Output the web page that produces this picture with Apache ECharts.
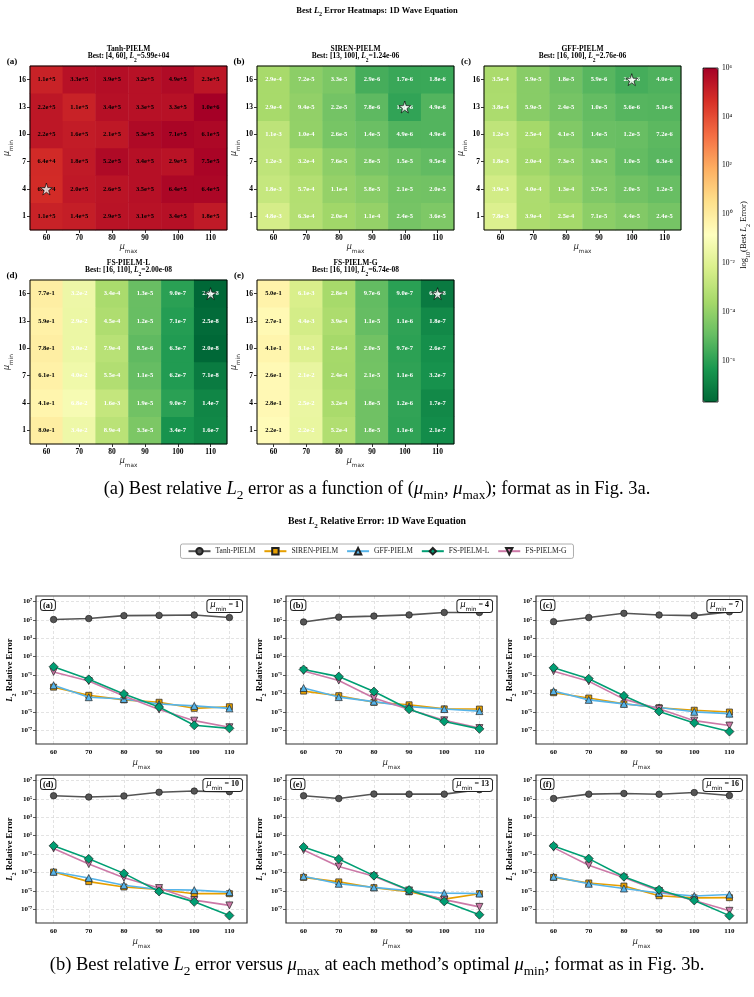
<!DOCTYPE html>
<html><head><meta charset="utf-8">
<script src="https://cdn.jsdelivr.net/npm/echarts@6/dist/echarts.min.js"></script>
<style>html,body{margin:0;padding:0;background:#fff}#c{width:754px;height:997px}</style>
</head><body><div id="c"></div><script>
// ---------------- DATA ----------------
const muMax = [60, 70, 80, 90, 100, 110];
const muMin = [1, 4, 7, 10, 13, 16];
const methods = ['Tanh-PIELM', 'SIREN-PIELM', 'GFF-PIELM', 'FS-PIELM-L', 'FS-PIELM-G'];
// rows: mu_min = 1,4,7,10,13,16 ; columns: mu_max = 60..110
const tanhPIELM = [
  [1.1e5, 1.4e5, 2.9e5, 3.1e5, 3.4e5, 1.8e5],
  [5.99e4, 2.0e5, 2.6e5, 3.5e5, 6.4e5, 6.4e5],
  [6.4e4, 1.8e5, 5.2e5, 3.4e5, 2.9e5, 7.5e5],
  [2.2e5, 1.6e5, 2.1e5, 5.3e5, 7.1e5, 6.1e5],
  [2.2e5, 1.1e5, 3.4e5, 3.3e5, 3.3e5, 1.0e6],
  [1.1e5, 3.3e5, 3.9e5, 3.2e5, 4.9e5, 2.3e5]
];
const sirenPIELM = [
  [4.8e-3, 6.3e-4, 2.0e-4, 1.1e-4, 2.4e-5, 3.6e-5],
  [1.8e-3, 5.7e-4, 1.1e-4, 5.8e-5, 2.1e-5, 2.0e-5],
  [1.2e-3, 3.2e-4, 7.6e-5, 2.8e-5, 1.5e-5, 9.5e-6],
  [1.1e-3, 1.0e-4, 2.6e-5, 1.4e-5, 4.9e-6, 4.9e-6],
  [2.9e-4, 9.4e-5, 2.2e-5, 7.8e-6, 1.24e-6, 4.9e-6],
  [2.9e-4, 7.2e-5, 3.3e-5, 2.9e-6, 1.7e-6, 1.8e-6]
];
const gffPIELM = [
  [7.8e-3, 3.9e-4, 2.5e-4, 7.1e-5, 4.4e-5, 2.4e-5],
  [3.9e-3, 4.0e-4, 1.3e-4, 3.7e-5, 2.0e-5, 1.2e-5],
  [1.8e-3, 2.0e-4, 7.3e-5, 3.0e-5, 1.0e-5, 6.3e-6],
  [1.2e-3, 2.5e-4, 4.1e-5, 1.4e-5, 1.2e-5, 7.2e-6],
  [3.8e-4, 5.9e-5, 2.4e-5, 1.0e-5, 5.6e-6, 5.1e-6],
  [3.5e-4, 5.9e-5, 1.8e-5, 5.9e-6, 2.76e-6, 4.0e-6]
];
const fsPIELM_L = [
  [8.0e-1, 3.4e-2, 8.9e-4, 3.3e-5, 3.4e-7, 1.6e-7],
  [4.1e-1, 6.8e-2, 1.6e-3, 1.9e-5, 9.0e-7, 1.4e-7],
  [6.1e-1, 4.0e-2, 5.5e-4, 1.1e-5, 6.2e-7, 7.1e-8],
  [7.8e-1, 3.0e-2, 7.9e-4, 8.5e-6, 6.3e-7, 2.04e-8],
  [5.9e-1, 2.9e-2, 4.5e-4, 1.2e-5, 7.1e-7, 2.5e-8],
  [7.7e-1, 3.2e-2, 3.4e-4, 1.3e-5, 9.0e-7, 2.00e-8]
];
const fsPIELM_G = [
  [2.2e-1, 2.2e-2, 5.2e-4, 1.8e-5, 1.1e-6, 2.1e-7],
  [2.8e-1, 2.5e-2, 3.2e-4, 1.8e-5, 1.2e-6, 1.7e-7],
  [2.6e-1, 2.1e-2, 2.4e-4, 2.1e-5, 1.1e-6, 3.2e-7],
  [4.1e-1, 8.1e-3, 2.6e-4, 2.0e-5, 9.7e-7, 2.6e-7],
  [2.7e-1, 4.4e-3, 3.9e-4, 1.1e-5, 1.1e-6, 1.8e-7],
  [5.0e-1, 6.1e-3, 2.8e-4, 9.7e-6, 9.0e-7, 6.74e-8]
];
const allGrids = [tanhPIELM, sirenPIELM, gffPIELM, fsPIELM_L, fsPIELM_G];
const panelLetters = ['(a)', '(b)', '(c)', '(d)', '(e)', '(f)'];
const cbTicks = [-6, -4, -2, 0, 2, 4, 6];
const lineYTicks = [-7, -5, -3, -1, 1, 3, 5, 7];

// ---------------- STYLE / LAYOUT ----------------
const SERIF = '"Liberation Serif", "Times New Roman", serif';
const SANS = '"DejaVu Sans", sans-serif';
function rs(size, o) {
  return Object.assign({fontFamily: SERIF, fontSize: size, fontWeight: 'normal', fontStyle: 'normal', color: '#000', fill: '#000'}, o || {});
}
const heatPos = [
  {left: 30, top: 66}, {left: 257, top: 66}, {left: 484, top: 66},
  {left: 30, top: 280}, {left: 257, top: 280}
];
const heatW = 197, heatH = 164;
const linePos = [
  {left: 36, top: 596}, {left: 286, top: 596}, {left: 536, top: 596},
  {left: 36, top: 775}, {left: 286, top: 775}, {left: 536, top: 775}
];
const lineW = 211, lineH = 148;
const cb = {left: 703, top: 68, width: 15, height: 334};
const mStyles = [
  {color: '#555555', symbol: 'circle', size: 6.5, z: 3},
  {color: '#E69F00', symbol: 'rect', size: 6, z: 4},
  {color: '#56B4E9', symbol: 'triangle', size: 7, z: 5},
  {color: '#009E73', symbol: 'diamond', size: 9, z: 7},
  {color: '#CC79A7', symbol: 'triangle', size: 7, z: 6, rotate: 180}
];
const starPath = 'path://M50,0 L61,35 L98,35 L68,57 L79,91 L50,70 L21,91 L32,57 L2,35 L39,35 Z';

// ---------------- HELPERS ----------------
const SUP = {'0': '\u2070', '1': '\u00b9', '2': '\u00b2', '3': '\u00b3', '4': '\u2074', '5': '\u2075', '6': '\u2076', '7': '\u2077', '8': '\u2078', '9': '\u2079', '-': '\u207b'};
const powFmt = v => '10' + String(Math.round(v)).split('').map(c => SUP[c]).join('');
function fmtBest(v) {
  const parts = v.toExponential(2).split('e');
  let sgn = parts[1][0], n = parts[1].slice(1);
  if (n.length < 2) n = '0' + n;
  return parts[0] + 'e' + sgn + n;
}
const muRich = (fs) => ({
  m: rs(fs, {fontFamily: SANS, fontStyle: 'italic', color: '#222', lineHeight: fs + 4, verticalAlign: 'top'}),
  s: rs(fs * 0.72, {fontFamily: SANS, color: '#222', lineHeight: fs * 0.7, verticalAlign: 'bottom'})
});

let allLogs = [];
allGrids.forEach(G => G.forEach(r => r.forEach(v => allLogs.push(Math.log10(v)))));
const vmin = Math.min.apply(null, allLogs), vmax = Math.max.apply(null, allLogs);
const vmid = (vmin + vmax) / 2;

const grid = [], xAxis = [], yAxis = [], series = [], graphics = [];

// ---------------- HEATMAPS ----------------
allGrids.forEach((G, k) => {
  const p = heatPos[k];
  grid.push({left: p.left, top: p.top, width: heatW, height: heatH, show: true, borderColor: '#000', borderWidth: 1, backgroundColor: 'transparent', z: 10});
  xAxis.push({
    gridIndex: k, type: 'category', data: muMax.map(String),
    axisLine: {show: false}, splitLine: {show: false},
    axisTick: {show: true, alignWithLabel: true, length: 3, lineStyle: {color: '#000', width: 0.8}},
    axisLabel: {fontFamily: SERIF, fontWeight: 'bold', fontSize: 7.5, color: '#000', margin: 4},
    name: '{m|\u03bc}{s|max}', nameLocation: 'middle', nameGap: 13,
    nameTextStyle: {rich: muRich(8)}
  });
  yAxis.push({
    gridIndex: k, type: 'category', data: muMin.map(String),
    axisLine: {show: false}, splitLine: {show: false},
    axisTick: {show: true, alignWithLabel: true, length: 3, lineStyle: {color: '#000', width: 0.8}},
    axisLabel: {fontFamily: SERIF, fontWeight: 'bold', fontSize: 7.5, color: '#000', margin: 4},
    name: '{m|\u03bc}{s|min}', nameLocation: 'middle', nameGap: 15, nameRotate: 90,
    nameTextStyle: {rich: muRich(8)}
  });
  const data = [];
  let best = Infinity, bx = 0, by = 0;
  G.forEach((row, yi) => row.forEach((v, xi) => {
    const lv = Math.log10(v);
    if (v < best) { best = v; bx = xi; by = yi; }
    data.push({value: [xi, yi, lv, v], label: {color: lv < vmid ? '#fff' : '#000'}});
  }));
  series.push({
    type: 'heatmap', xAxisIndex: k, yAxisIndex: k, data: data,
    label: {show: true, formatter: prm => prm.data.value[3].toExponential(1), fontFamily: SERIF, fontWeight: 'bold', fontSize: 6.5},
    emphasis: {disabled: true}, z: 2
  });
  G._best = {v: best, x: bx, y: by};
  const cx = p.left + heatW / 2;
  graphics.push({type: 'text', x: cx, y: p.top - 17, z: 100, style: {text: methods[k], align: 'center', verticalAlign: 'middle', textAlign: 'center', textVerticalAlign: 'middle', font: 'bold 7.5px ' + SERIF, fill: '#000'}});
  graphics.push({type: 'text', x: cx, y: p.top - 8, z: 100, style: {
    text: '{t|Best: [' + muMin[by] + ', ' + muMax[bx] + '], }{i|L}{s|2}{t|=' + fmtBest(best) + '}',
    align: 'center', verticalAlign: 'middle', textAlign: 'center', textVerticalAlign: 'middle',
    font: 'bold 7.5px ' + SERIF, fill: '#000',
    rich: {
      t: rs(7.5, {fontWeight: 'bold', lineHeight: 11, verticalAlign: 'top'}),
      i: rs(7.5, {fontWeight: 'bold', fontStyle: 'italic', lineHeight: 11, verticalAlign: 'top'}),
      s: rs(5.5, {fontWeight: 'bold', lineHeight: 5, verticalAlign: 'bottom'})
    }}});
  graphics.push({type: 'text', x: p.left - 18, y: p.top - 4, z: 100, style: {text: panelLetters[k], align: 'center', verticalAlign: 'middle', textAlign: 'center', textVerticalAlign: 'middle', font: 'bold 9px ' + SERIF, fill: '#000'}});
});
allGrids.forEach((G, k) => {
  series.push({
    type: 'scatter', xAxisIndex: k, yAxisIndex: k, data: [[G._best.x, G._best.y]],
    symbol: starPath, symbolSize: 12, itemStyle: {color: '#fff', borderColor: '#000', borderWidth: 0.8},
    z: 6, emphasis: {disabled: true}, silent: true
  });
});

// ---------------- COLORBAR AXIS ----------------
grid.push({left: cb.left, top: cb.top, width: cb.width, height: cb.height, show: true, borderColor: '#000', borderWidth: 0.8, backgroundColor: 'transparent', z: 10});
xAxis.push({gridIndex: 5, type: 'value', show: false, min: 0, max: 1});
yAxis.push({
  gridIndex: 5, type: 'value', position: 'right', min: vmin, max: vmax,
  axisLine: {show: false}, splitLine: {show: false},
  axisTick: {show: true, length: 3, customValues: cbTicks, lineStyle: {color: '#000', width: 0.8}},
  axisLabel: {show: true, customValues: cbTicks, margin: 4, formatter: powFmt, fontFamily: SERIF, fontSize: 7.5, color: '#000'},
  name: '{t|log}{s|10}{t|(Best }{i|L}{s|2}{t| Error)}', nameLocation: 'middle', nameGap: 20, nameRotate: 90,
  nameTextStyle: {rich: {
    t: rs(8.5, {lineHeight: 12, verticalAlign: 'top'}),
    i: rs(8.5, {fontStyle: 'italic', lineHeight: 12, verticalAlign: 'top'}),
    s: rs(6, {lineHeight: 6, verticalAlign: 'bottom'})
  }}
});

// ---------------- LINE PANELS ----------------
linePos.forEach((p, j) => {
  const gi = 6 + j;
  grid.push({left: p.left, top: p.top, width: lineW, height: lineH, show: true, borderColor: '#333', borderWidth: 1.2, backgroundColor: 'transparent', z: 10});
  xAxis.push({
    gridIndex: gi, type: 'value', min: 55, max: 115,
    axisLine: {show: false},
    axisTick: {show: true, length: 3, customValues: muMax, lineStyle: {color: '#333', width: 0.8}},
    axisLabel: {customValues: muMax, fontFamily: SERIF, fontWeight: 'bold', fontSize: 7, color: '#000', margin: 5},
    splitLine: {show: true, lineStyle: {color: '#d0d0d0', width: 0.6, type: [3, 2]}},
    name: '{m|\u03bc}{s|max}', nameLocation: 'middle', nameGap: 15,
    nameTextStyle: {rich: muRich(8)}
  });
  yAxis.push({
    gridIndex: gi, type: 'value', min: -8.5, max: 7.6,
    axisLine: {show: false},
    axisTick: {show: true, length: 3, customValues: lineYTicks, lineStyle: {color: '#333', width: 0.8}},
    axisLabel: {customValues: lineYTicks, margin: 4, formatter: powFmt, fontFamily: SERIF, fontWeight: 'bold', fontSize: 7, color: '#000'},
    splitLine: {show: true, lineStyle: {color: '#d0d0d0', width: 0.6, type: [3, 2]}},
    name: '{i|L}{s|2}{t| Relative Error}', nameLocation: 'middle', nameGap: 19, nameRotate: 90,
    nameTextStyle: {rich: {
      t: rs(8.5, {fontWeight: 'bold', lineHeight: 12, verticalAlign: 'top'}),
      i: rs(8.5, {fontWeight: 'bold', fontStyle: 'italic', lineHeight: 12, verticalAlign: 'top'}),
      s: rs(6, {fontWeight: 'bold', lineHeight: 6, verticalAlign: 'bottom'})
    }}
  });
  allGrids.forEach((G, m) => {
    const st = mStyles[m];
    series.push({
      type: 'line', name: methods[m], xAxisIndex: gi, yAxisIndex: gi,
      data: muMax.map((x, i) => [x, Math.log10(G[j][i])]),
      symbol: st.symbol, symbolSize: st.size, symbolRotate: st.rotate || 0, showAllSymbol: true,
      lineStyle: {color: st.color, width: 1.6},
      itemStyle: {color: st.color, borderColor: '#222', borderWidth: 0.7},
      z: st.z, emphasis: {disabled: true}, silent: true
    });
  });
  graphics.push({type: 'text', x: p.left + 5, y: p.top + 4, z: 100, style: {
    text: panelLetters[j], align: 'left', verticalAlign: 'top', textAlign: 'left', textVerticalAlign: 'top',
    font: 'bold 8.5px ' + SERIF, fill: '#000', backgroundColor: '#fff', borderColor: '#222', borderWidth: 1, borderRadius: 2.5, padding: [1, 2, 0, 2]}});
  graphics.push({type: 'text', x: p.left + lineW - 5, y: p.top + 4, z: 100, style: {
    text: '{m|\u03bc}{s|min}{t| = ' + muMin[j] + '}', align: 'right', verticalAlign: 'top', textAlign: 'right', textVerticalAlign: 'top',
    font: '8px ' + SANS, fill: '#000', backgroundColor: '#fff', borderColor: '#222', borderWidth: 1, borderRadius: 2.5, padding: [1, 3, 0, 3],
    rich: {
      m: rs(8, {fontFamily: SANS, fontStyle: 'italic', lineHeight: 11, verticalAlign: 'top'}),
      s: rs(5.8, {fontFamily: SANS, lineHeight: 6, verticalAlign: 'bottom'}),
      t: rs(8, {fontWeight: 'bold', lineHeight: 11, verticalAlign: 'top'})
    }}});
});

// ---------------- FREE TEXTS ----------------
function capRich(fs) {
  return {
    i: rs(fs, {fontStyle: 'italic', lineHeight: fs + 4, verticalAlign: 'top'}),
    s: rs(fs * 0.72, {lineHeight: fs * 0.5, verticalAlign: 'bottom'}),
    t: rs(fs, {lineHeight: fs + 4, verticalAlign: 'top'})
  };
}
function titleRich(fs) {
  return {t: rs(fs, {fontWeight: 'bold', lineHeight: fs + 3, verticalAlign: 'top'}), i: rs(fs, {fontWeight: 'bold', fontStyle: 'italic', lineHeight: fs + 3, verticalAlign: 'top'}), s: rs(fs * 0.72, {fontWeight: 'bold', lineHeight: fs * 0.66, verticalAlign: 'bottom'})};
}
const CAP = 18.5;
graphics.push({type: 'text', x: 377, y: 12, z: 100, style: {
  text: '{t|Best }{i|L}{s|2}{t| Error Heatmaps: 1D Wave Equation}', align: 'center', verticalAlign: 'middle', textAlign: 'center', textVerticalAlign: 'middle',
  font: 'bold 8.5px ' + SERIF, fill: '#000', rich: titleRich(8.5)}});
graphics.push({type: 'text', x: 377, y: 491, z: 100, style: {
  text: '{t|(a) Best relative }{i|L}{s|2}{t| error as a function of (}{i|\u03bc}{s|min}{t|, }{i|\u03bc}{s|max}{t|); format as in Fig. 3a.}',
  align: 'center', verticalAlign: 'middle', textAlign: 'center', textVerticalAlign: 'middle', font: CAP + 'px ' + SERIF, fill: '#000', rich: capRich(CAP)}});
graphics.push({type: 'text', x: 377, y: 523, z: 100, style: {
  text: '{t|Best }{i|L}{s|2}{t| Relative Error: 1D Wave Equation}', align: 'center', verticalAlign: 'middle', textAlign: 'center', textVerticalAlign: 'middle',
  font: 'bold 9.8px ' + SERIF, fill: '#000', rich: titleRich(9.8)}});
graphics.push({type: 'text', x: 377, y: 967, z: 100, style: {
  text: '{t|(b) Best relative }{i|L}{s|2}{t| error versus }{i|\u03bc}{s|max}{t| at each method\u2019s optimal }{i|\u03bc}{s|min}{t|; format as in Fig. 3b.}',
  align: 'center', verticalAlign: 'middle', textAlign: 'center', textVerticalAlign: 'middle', font: CAP + 'px ' + SERIF, fill: '#000', rich: capRich(CAP)}});

const option = {
  animation: false,
  backgroundColor: '#ffffff',
  grid: grid, xAxis: xAxis, yAxis: yAxis,
  visualMap: {
    type: 'continuous', min: vmin, max: vmax, dimension: 2, seriesIndex: [0, 1, 2, 3, 4],
    calculable: false, hoverLink: false, left: cb.left, top: cb.top, itemWidth: cb.width, itemHeight: cb.height,
    padding: 0, text: null, showLabel: false,
    inRange: {color: ['#006837', '#1a9850', '#66bd63', '#a6d96a', '#d9ef8b', '#ffffbf', '#fee08b', '#fdae61', '#f46d43', '#d73027', '#a50026']}
  },
  legend: {
    data: methods, top: 544, left: 'center', itemWidth: 22, itemHeight: 8, itemGap: 8,
    padding: [3, 7], borderColor: '#999', borderWidth: 0.8, borderRadius: 2, selectedMode: false,
    textStyle: {fontFamily: SERIF, fontSize: 7.5, color: '#222'}
  },
  series: series,
  graphic: {elements: graphics}
};
const chart = echarts.init(document.getElementById('c'), null, {renderer: 'canvas'});
chart.setOption(option);
</script></body></html>
